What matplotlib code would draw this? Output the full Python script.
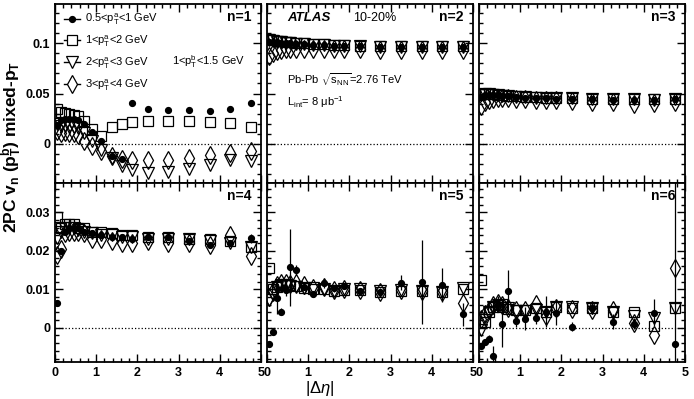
import numpy as np
import matplotlib
matplotlib.use('Agg')
import matplotlib.pyplot as plt
from matplotlib.lines import Line2D
from matplotlib.ticker import MultipleLocator

plt.rcParams['font.family'] = ['Liberation Sans', 'DejaVu Sans']
plt.rcParams['mathtext.fontset'] = 'custom'
plt.rcParams['mathtext.rm'] = 'Liberation Sans'
plt.rcParams['mathtext.it'] = 'Liberation Sans:italic'
plt.rcParams['mathtext.bf'] = 'Liberation Sans:bold'

# Centros dos bins em |Delta eta|
deta = [0.05, 0.15, 0.25, 0.35, 0.45, 0.55, 0.7, 0.9, 1.125, 1.375, 1.625, 1.875,
        2.25, 2.75, 3.25, 3.75, 4.25, 4.75]

# n=1
v1_c = [0.019, 0.024, 0.025, 0.025, 0.025, 0.024, 0.020, 0.012, 0.003, -0.012, -0.015, 0.041,
        0.035, 0.034, 0.034, 0.033, 0.035, 0.041]
v1_s = [0.035, 0.032, 0.031, 0.030, 0.029, 0.028, 0.023, 0.015, 0.008, 0.017, 0.020, 0.022,
        0.023, 0.023, 0.023, 0.022, 0.021, 0.017]
v1_t = [0.020, 0.018, 0.018, 0.017, 0.017, 0.016, 0.011, 0.003, -0.006, -0.014, -0.022, -0.026,
        -0.029, -0.028, -0.025, -0.021, -0.016, -0.017]
v1_d = [0.013, 0.011, 0.012, 0.011, 0.011, 0.009, 0.003, -0.002, -0.007, -0.012, -0.015, -0.016,
        -0.016, -0.016, -0.014, -0.011, -0.009, -0.007]

# n=2
v2_c = [0.101, 0.101, 0.101, 0.100, 0.100, 0.100, 0.099, 0.099, 0.098, 0.098, 0.097, 0.097,
        0.097, 0.096, 0.096, 0.096, 0.096, 0.096]
v2_s = [0.104, 0.103, 0.102, 0.102, 0.101, 0.101, 0.100, 0.100, 0.099, 0.099, 0.098, 0.098,
        0.097, 0.097, 0.097, 0.097, 0.097, 0.097]
v2_t = [0.103, 0.102, 0.101, 0.101, 0.100, 0.100, 0.099, 0.099, 0.098, 0.098, 0.097, 0.097,
        0.097, 0.096, 0.096, 0.096, 0.096, 0.096]
v2_d = [0.087, 0.090, 0.092, 0.093, 0.094, 0.094, 0.094, 0.094, 0.094, 0.094, 0.094, 0.094,
        0.094, 0.093, 0.093, 0.093, 0.093, 0.093]

# n=3
v3_c = [0.047, 0.049, 0.049, 0.049, 0.049, 0.048, 0.048, 0.047, 0.046, 0.046, 0.046, 0.045,
        0.045, 0.045, 0.044, 0.044, 0.044, 0.045]
v3_s = [0.050, 0.050, 0.050, 0.050, 0.049, 0.049, 0.048, 0.048, 0.047, 0.047, 0.046, 0.046,
        0.046, 0.045, 0.045, 0.045, 0.045, 0.045]
v3_t = [0.049, 0.050, 0.050, 0.049, 0.049, 0.048, 0.048, 0.047, 0.047, 0.046, 0.046, 0.046,
        0.046, 0.045, 0.045, 0.045, 0.044, 0.045]
v3_d = [0.038, 0.042, 0.044, 0.045, 0.046, 0.046, 0.046, 0.045, 0.045, 0.044, 0.044, 0.044,
        0.043, 0.042, 0.042, 0.040, 0.041, 0.042]

# n=4
v4_c = [0.0065, 0.020, 0.025, 0.026, 0.026, 0.026, 0.025, 0.0245, 0.024, 0.0235, 0.0235, 0.023,
        0.0235, 0.0235, 0.0225, 0.0215, 0.022, 0.0232]
v4_s = [0.0288, 0.026, 0.027, 0.027, 0.027, 0.026, 0.026, 0.025, 0.025, 0.0245, 0.024, 0.024,
        0.0235, 0.0235, 0.023, 0.023, 0.0225, 0.021]
v4_t = [0.0232, 0.025, 0.026, 0.026, 0.026, 0.0255, 0.025, 0.0245, 0.024, 0.024, 0.0235, 0.0235,
        0.023, 0.023, 0.023, 0.0225, 0.022, 0.021]
v4_d = [0.0189, 0.0205, 0.0245, 0.025, 0.025, 0.025, 0.0245, 0.023, 0.023, 0.0225, 0.022, 0.022,
        0.0225, 0.022, 0.022, 0.0215, 0.0242, 0.0186]
e4_c = [0.0003, 0.0003, 0.0003, 0.0003, 0.0003, 0.0003, 0.0003, 0.0003, 0.0003, 0.0003, 0.0003, 0.0003,
        0.0003, 0.0003, 0.0003, 0.0003, 0.0005, 0.0012]

# n=5
v5_c = [-0.0043, -0.001, 0.0076, 0.0042, 0.0098, 0.0157, 0.0150, 0.0105, 0.0087, 0.0115, 0.0102, 0.0108,
        0.0096, 0.0094, 0.0117, 0.0119, 0.0111, 0.0035]
e5_c = [0.0005, 0.0005, 0.004, 0.001, 0.0015, 0.010, 0.0012, 0.0008, 0.0008, 0.0012, 0.0008, 0.0008,
        0.0008, 0.0008, 0.002, 0.011, 0.0045, 0.003]
v5_s = [0.0154, 0.0100, 0.0105, 0.0110, 0.0112, 0.0112, 0.0108, 0.0103, 0.0100, 0.0100, 0.0095, 0.0098,
        0.0098, 0.0093, 0.0095, 0.0095, 0.0092, 0.0100]
v5_t = [0.0072, 0.0085, 0.0105, 0.0112, 0.0112, 0.0108, 0.0105, 0.0103, 0.0102, 0.0100, 0.0096, 0.0100,
        0.0100, 0.0096, 0.0097, 0.0095, 0.0093, 0.0102]
v5_d = [0.0080, 0.0095, 0.0110, 0.0115, 0.0115, 0.0113, 0.0115, 0.0112, 0.0102, 0.0105, 0.0098, 0.0100,
        0.0097, 0.0093, 0.0097, 0.0095, 0.0092, 0.0063]

# n=6
v6_c = [-0.0047, -0.0036, -0.0028, -0.0073, 0.0062, 0.0010, 0.0095, 0.0017, 0.0024, 0.0026, 0.0042, 0.0037,
        0.0003, 0.0050, 0.0016, 0.0011, 0.0039, -0.0042]
e6_c = [0.0005, 0.0005, 0.001, 0.0025, 0.002, 0.006, 0.0055, 0.0015, 0.003, 0.0015, 0.004, 0.003,
        0.0012, 0.0015, 0.002, 0.0015, 0.0035, 0.045]
v6_s = [0.0124, 0.0015, 0.004, 0.0055, 0.0060, 0.0055, 0.0048, 0.0045, 0.0045, 0.0050, 0.0040, 0.0055,
        0.0052, 0.0050, 0.0040, 0.0040, 0.0005, 0.0050]
v6_t = [-0.0006, 0.002, 0.004, 0.0055, 0.006, 0.0058, 0.0050, 0.0043, 0.0043, 0.0045, 0.0040, 0.0055,
        0.0055, 0.0050, 0.0040, 0.0030, 0.0025, 0.0052]
v6_d = [0.0024, 0.0035, 0.0045, 0.006, 0.0065, 0.0060, 0.0050, 0.0045, 0.0047, 0.0062, 0.0030, 0.0052,
        0.0048, 0.0047, 0.0045, 0.0012, -0.0020, 0.0155]

legenda = [r'0.5<$\mathrm{p_T^a}$<1 GeV', r'1<$\mathrm{p_T^a}$<2 GeV',
           r'2<$\mathrm{p_T^a}$<3 GeV', r'3<$\mathrm{p_T^a}$<4 GeV']

W, H = 694, 399
fig = plt.figure(figsize=(W / 100, H / 100), dpi=100)

xs = [55, 267, 479]
ys = [4, 183]
pw, ph = 206, 179

painel = {}
for r in range(2):
    for c in range(3):
        ax = fig.add_axes([xs[c] / W, 1 - (ys[r] + ph) / H, pw / W, ph / H])
        painel[(r, c)] = ax

dados = [
    (painel[(0, 0)], 1, v1_c, v1_s, v1_t, v1_d, None),
    (painel[(0, 1)], 2, v2_c, v2_s, v2_t, v2_d, None),
    (painel[(0, 2)], 3, v3_c, v3_s, v3_t, v3_d, None),
    (painel[(1, 0)], 4, v4_c, v4_s, v4_t, v4_d, e4_c),
    (painel[(1, 1)], 5, v5_c, v5_s, v5_t, v5_d, e5_c),
    (painel[(1, 2)], 6, v6_c, v6_s, v6_t, v6_d, e6_c),
]

for ax, n, vc, vs, vt, vd, ec in dados:
    ax.axhline(0, ls=':', color='k', lw=0.9)
    if ec is not None:
        ax.errorbar(deta, vc, yerr=ec, fmt='none', ecolor='k', elinewidth=0.9, capsize=0)
    ax.plot(deta, vc, 'o', color='k', ms=4.2, ls='none')
    ax.plot(deta, vs, 's', mfc='none', mec='k', mew=0.9, ms=6.5, ls='none')
    ax.plot(deta, vt, 'v', mfc='none', mec='k', mew=0.9, ms=8, ls='none')
    ax.plot(deta, vd, 'd', mfc='none', mec='k', mew=0.9, ms=9, ls='none')

    ax.set_xlim(0, 5)
    if n <= 3:
        ax.set_ylim(-0.039, 0.139)
        ax.yaxis.set_major_locator(MultipleLocator(0.05))
        ax.yaxis.set_minor_locator(MultipleLocator(0.01))
    else:
        ax.set_ylim(-0.0089, 0.0376)
        ax.yaxis.set_major_locator(MultipleLocator(0.01))
        ax.yaxis.set_minor_locator(MultipleLocator(0.002))
    ax.xaxis.set_major_locator(MultipleLocator(1))
    ax.xaxis.set_minor_locator(MultipleLocator(0.2))
    ax.tick_params(which='both', direction='in', top=True, right=True, width=1.0)
    ax.tick_params(which='major', length=6, labelsize=9)
    ax.tick_params(which='minor', length=3)
    for s in ax.spines.values():
        s.set_linewidth(1.3)
    for lab in ax.get_xticklabels() + ax.get_yticklabels():
        lab.set_fontweight('bold')
    if n <= 3:
        ax.tick_params(labelbottom=False)
    if n not in (1, 4):
        ax.tick_params(labelleft=False)
    else:
        ax.yaxis.set_major_formatter(plt.FuncFormatter(lambda v, p: '0' if abs(v) < 1e-9 else ('%g' % v)))
    ax.text(0.955, 0.93, 'n=%d' % n, transform=ax.transAxes, ha='right', va='center',
            fontsize=10, fontweight='bold')

# Legenda no painel n=1
ax = painel[(0, 0)]
handles = [
    Line2D([], [], marker='o', color='k', ms=4.2, lw=1.0),
    Line2D([], [], marker='s', color='k', mfc='white', mew=0.9, ms=6.5, lw=1.0),
    Line2D([], [], marker='v', color='k', mfc='white', mew=0.9, ms=8, lw=1.0),
    Line2D([], [], marker='d', color='k', mfc='white', mew=0.9, ms=9, lw=1.0),
]
ax.legend(handles, legenda, loc='upper left', bbox_to_anchor=(-0.004, 1.011), frameon=False,
          fontsize=8, handlelength=1.4, handletextpad=0.45, labelspacing=0.57, borderpad=0.4)
ax.text(0.57, 0.676, r'1<$\mathrm{p_T^b}$<1.5 GeV', transform=ax.transAxes, ha='left',
        va='center', fontsize=8)

# Textos do painel n=2
ax = painel[(0, 1)]
ax.text(0.097, 0.92, 'ATLAS', transform=ax.transAxes, fontsize=9.5, fontweight='bold',
        fontstyle='italic', va='center')
ax.text(0.42, 0.92, '10-20%', transform=ax.transAxes, fontsize=9, va='center')
ax.text(0.097, 0.575, r'Pb-Pb $\sqrt{\mathrm{s_{NN}}}$=2.76 TeV', transform=ax.transAxes,
        fontsize=8, va='center')
ax.text(0.097, 0.45, r'L$_{\mathrm{int}}$= 8 $\mathrm{\mu}$b$^{\mathrm{-1}}$', transform=ax.transAxes,
        fontsize=8, va='center')

fig.text(12 / W, 1 - 147 / H, r'2PC $\mathbf{v_n}$ ($\mathbf{p_T^b}$) mixed-$\mathbf{p_T}$',
         rotation=90, ha='center', va='center', fontsize=12.5, fontweight='bold')
fig.text(320 / W, 1 - 389 / H, r'|$\Delta\eta$|', ha='center', va='center', fontsize=12)

fig.savefig('out.png', dpi=100)
